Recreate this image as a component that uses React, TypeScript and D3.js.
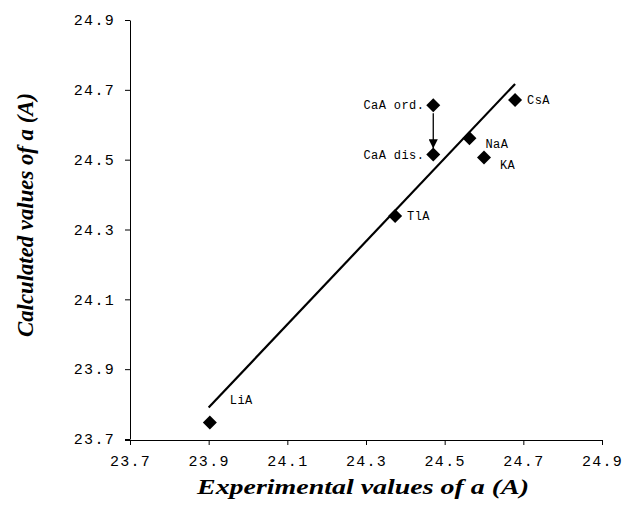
import React, { useEffect, useRef } from 'react';
import * as d3 from 'd3';

// zeolite A lattice constants (experimental vs calculated)
const names = ['LiA', 'TlA', 'CaA ord.', 'CaA dis.', 'NaA', 'KA', 'CsA'];
const expValues = [23.903, 24.374, 24.471, 24.471, 24.563, 24.6, 24.679];
const calcValues = [23.747, 24.339, 24.656, 24.515, 24.561, 24.506, 24.671];
const fitX = [23.9, 24.679];
const fitY = [23.79, 24.717];
const tickValues = [23.7, 23.9, 24.1, 24.3, 24.5, 24.7, 24.9];

// label placement next to each marker
const labelPos: Record<string, [number, number, string]> = {
  LiA: [20, -23, 'start'],
  TlA: [12, 0, 'start'],
  'CaA ord.': [-9, 0, 'end'],
  'CaA dis.': [-9, 0, 'end'],
  NaA: [16, 5, 'start'],
  KA: [16, 7, 'start'],
  CsA: [12, 0, 'start'],
};

export default function App() {
  const ref = useRef<SVGSVGElement>(null);

  useEffect(() => {
    const svg = d3.select(ref.current);
    svg.selectAll('*').remove();

    const x = d3.scaleLinear().domain([23.7, 24.9]).range([130, 602]);
    const y = d3.scaleLinear().domain([23.7, 24.9]).range([439, 20]);
    const fmt = d3.format('.1f');

    const xAxis = svg
      .append('g')
      .attr('transform', 'translate(0,440)')
      .call(d3.axisBottom(x).tickValues(tickValues).tickFormat(fmt).tickSize(5).tickPadding(10).tickSizeOuter(0));
    const yAxis = svg
      .append('g')
      .attr('transform', 'translate(130,0)')
      .call(d3.axisLeft(y).tickValues(tickValues).tickFormat(fmt).tickSize(5).tickPadding(10).tickSizeOuter(0));

    [xAxis, yAxis].forEach((g) => {
      g.selectAll('.domain').attr('stroke', '#000');
      g.selectAll('line').attr('stroke', '#000');
      g.selectAll('text')
        .attr('fill', '#000')
        .style('font-family', '"Liberation Mono", monospace')
        .style('font-size', '15px')
        .style('letter-spacing', '1.3px');
    });
    // x axis line runs a little past the y axis
    xAxis.select('.domain').attr('d', `M125,0.5H602`);

    // regression line
    svg
      .append('line')
      .attr('x1', x(fitX[0]))
      .attr('y1', y(fitY[0]))
      .attr('x2', x(fitX[1]))
      .attr('y2', y(fitY[1]))
      .attr('stroke', '#000')
      .attr('stroke-width', 2.2);

    // arrow from ordered to disordered CaA
    svg
      .append('defs')
      .append('marker')
      .attr('id', 'arr')
      .attr('viewBox', '0 0 10 10')
      .attr('refX', 10)
      .attr('refY', 5)
      .attr('markerWidth', 7)
      .attr('markerHeight', 7)
      .attr('orient', 'auto')
      .append('path')
      .attr('d', 'M0,0L10,5L0,10Z')
      .attr('fill', '#000');
    svg
      .append('line')
      .attr('x1', x(expValues[2]))
      .attr('y1', y(calcValues[2]) + 8)
      .attr('x2', x(expValues[3]))
      .attr('y2', y(calcValues[3]) - 6)
      .attr('stroke', '#000')
      .attr('stroke-width', 1.3)
      .attr('marker-end', 'url(#arr)');

    const sym = d3.symbol(d3.symbolSquare, 98);
    const pts = names.map((n, i) => ({ n, x: x(expValues[i]), y: y(calcValues[i]) }));

    svg
      .selectAll('path.pt')
      .data(pts)
      .join('path')
      .attr('class', 'pt')
      .attr('d', sym)
      .attr('transform', (d) => `translate(${d.x},${d.y}) rotate(45)`)
      .attr('fill', '#000');

    svg
      .selectAll('text.lbl')
      .data(pts)
      .join('text')
      .attr('class', 'lbl')
      .attr('x', (d) => d.x + labelPos[d.n][0])
      .attr('y', (d) => d.y + labelPos[d.n][1])
      .attr('dy', '0.35em')
      .attr('text-anchor', (d) => labelPos[d.n][2])
      .style('font-family', '"Liberation Mono", monospace')
      .style('font-size', '12px')
      .style('letter-spacing', '0.4px')
      .text((d) => d.n);

    // axis titles
    svg
      .append('text')
      .attr('x', 363)
      .attr('y', 494)
      .attr('text-anchor', 'middle')
      .attr('textLength', 332)
      .attr('lengthAdjust', 'spacingAndGlyphs')
      .style('font-family', '"Liberation Serif", serif')
      .style('font-weight', 'bold')
      .style('font-style', 'italic')
      .style('font-size', '21px')
      .text('Experimental values of a (A)');
    svg
      .append('text')
      .attr('transform', 'translate(33,215) rotate(-90)')
      .attr('text-anchor', 'middle')
      .attr('textLength', 244)
      .attr('lengthAdjust', 'spacingAndGlyphs')
      .style('font-family', '"Liberation Serif", serif')
      .style('font-weight', 'bold')
      .style('font-style', 'italic')
      .style('font-size', '23px')
      .text('Calculated values of a (A)');
  }, []);

  return (
    <svg
      ref={ref}
      width={622}
      height={508}
      style={{ position: 'absolute', left: 0, top: 0, background: '#fff' }}
    />
  );
}
